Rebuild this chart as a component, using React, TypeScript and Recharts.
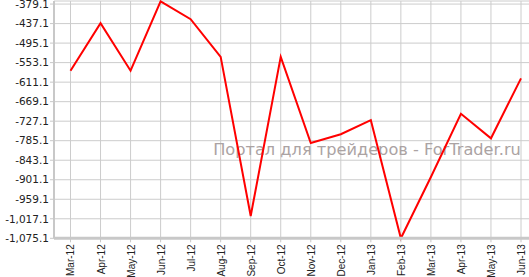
import { LineChart, Line, XAxis, YAxis, CartesianGrid, Customized } from 'recharts';

// Monthly values, Mar-12 .. Jun-13
const months = [
    'Mar-12', 'Apr-12', 'May-12', 'Jun-12', 'Jul-12', 'Aug-12', 'Sep-12', 'Oct-12',
    'Nov-12', 'Dec-12', 'Jan-13', 'Feb-13', 'Mar-13', 'Apr-13', 'May-13', 'Jun-13',
];
const values = [
    -577, -436, -577, -371, -424, -536, -1009, -536,
    -792, -766, -724, -1075, -893, -705, -778, -600,
];
const yTicks = [
    -379.1, -437.1, -495.1, -553.1, -611.1, -669.1, -727.1,
    -785.1, -843.1, -901.1, -959.1, -1017.1, -1075.1,
];
const watermark = 'Портал для трейдеров - ForTrader.ru';

const data = months.map((m, i) => ({ month: m, value: values[i] }));

const fmt = (v: number) =>
    v.toLocaleString('en-US', { minimumFractionDigits: 1, maximumFractionDigits: 1 });

// rotated month labels under the axis
const MonthTick = ({ x, y, payload }: any) => (
    <text
        x={x}
        y={y}
        transform={`rotate(-90, ${x}, ${y})`}
        textAnchor="end"
        dy={4}
        fontSize={10}
        fontFamily="'Liberation Sans', Arial, sans-serif"
        fill="#222"
    >
        {payload.value}
    </text>
);

const Watermark = () => (
    <text
        x={367}
        y={155}
        textAnchor="middle"
        fontSize={16.2}
        fontFamily="'DejaVu Sans', sans-serif"
        fill="#aba3a3"
    >
        {watermark}
    </text>
);

export default function App() {
    return (
        <div style={{ position: 'absolute', left: 0, top: 0, width: 529, height: 277, overflow: 'hidden', background: '#fff' }}>
            <LineChart
                width={545}
                height={277}
                data={data}
                margin={{ top: 1, right: 9, bottom: 0, left: 0 }}
            >
                <CartesianGrid stroke="#cccccc" strokeWidth={1} />
                <Customized component={Watermark} />
                <XAxis
                    dataKey="month"
                    padding={{ left: 16.5, right: 15 }}
                    height={38.7}
                    interval={0}
                    tick={<MonthTick />}
                    tickSize={4}
                    stroke="#c8c8c8"
                    axisLine={{ stroke: '#c8c8c8', strokeWidth: 3 }}
                    tickLine={{ stroke: '#c8c8c8' }}
                />
                <YAxis
                    width={54}
                    domain={[-1075.1, -370]}
                    ticks={yTicks}
                    interval={0}
                    tickFormatter={fmt}
                    tickSize={4}
                    tickMargin={1}
                    axisLine={{ stroke: '#c8c8c8', strokeWidth: 2 }}
                    tickLine={{ stroke: '#c8c8c8' }}
                    tick={{ fontSize: 10.5, fill: '#222', fontFamily: "'DejaVu Sans', Verdana, sans-serif" }}
                />
                <Line
                    type="linear"
                    dataKey="value"
                    stroke="#ff0000"
                    strokeWidth={2}
                    dot={false}
                    isAnimationActive={false}
                />
            </LineChart>
        </div>
    );
}
